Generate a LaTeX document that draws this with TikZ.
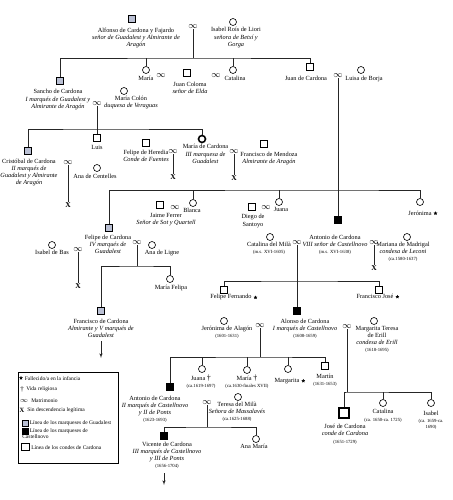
\documentclass[tikz,border=0pt]{standalone}
\usepackage{fontspec}
\setmainfont{Liberation Serif}
\usetikzlibrary{shapes,arrows,positioning,shadows}
\definecolor{guadblue}{RGB}{186,192,212}
\newcommand{\datefont}{\fontsize{4.7}{5.6}\selectfont}

\begin{document}
\begin{tikzpicture}[x=1pt, y=-1pt, >=latex', line width=0.6pt,
    font=\fontsize{6.3}{7.1}\selectfont,
    man/.style={rectangle, draw, fill=white, minimum size=7pt, inner sep=0pt,
      drop shadow={shadow xshift=0.7pt, shadow yshift=-0.7pt, opacity=1, fill=black}},
    guad/.style={man, fill=guadblue},
    cast/.style={man, fill=black},
    card/.style={man, minimum size=10pt, line width=1.4pt},
    woman/.style={circle, draw, fill=white, minimum size=7pt, inner sep=0pt},
    heir/.style={woman, line width=1.6pt},
    mat/.style={inner sep=0pt, font=\fontsize{9}{9}\selectfont},
    txt/.style={align=center, inner sep=0pt},
    nodesc/.style={inner sep=0pt, font=\fontsize{7.5}{7.5}\selectfont\bfseries},
    inf/.style={shape=star, star points=5, star point ratio=2.2, fill, draw, minimum size=3.3pt, inner sep=0pt, line width=0.2pt},
    key/.style={anchor=west, inner sep=0pt, align=left, font=\fontsize{5.5}{6.4}\selectfont},
    ln/.style={draw=black!85},
    ar/.style={->, draw=black!85}]

\useasboundingbox (0,0) rectangle (452,500);

% Alfonso and Isabel
\node[guad] (alfonso) at (132,19) {};
\node[txt, below=4.5pt of alfonso, xshift=4pt] (t_alfonso) {Alfonso de Cardona y Fajardo\\ \textit{señor de Guadalest y Almirante de}\\ \textit{Aragón}};
\node[woman] (isabelr) at (233,22) {};
\node[txt, below=1.5pt of isabelr, xshift=3pt] (t_isabelr) {Isabel Roís de Liori\\ \textit{señora de Betxí y}\\ \textit{Gorga}};
\node[mat] (m_alf) at (193,27) {$\infty$};
\coordinate (f1) at (193,58);

% their children
\node[guad] (sancho) at (60,81) {};
\node[txt, below=4.5pt of sancho, xshift=-2pt] (t_sancho) {Sancho de Cardona\\ \textit{I marqués de Guadalest y}\\ \textit{Almirante de Aragón}};
\node[woman] (maria1) at (146,70) {};
\node[txt, below=2pt of maria1] (t_maria1) {María};
\node[mat] (m_maria) at (161,76) {$\infty$};
\node[man] (jcoloma) at (187,73) {};
\node[txt, below=5pt of jcoloma, xshift=3pt] (t_jcoloma) {Juan Coloma\\ \textit{señor de Elda}};
\node[mat] (m_cat) at (216,76) {$\infty$};
\node[woman] (catalina1) at (233,70) {};
\node[txt, below=2pt of catalina1, xshift=2pt] (t_catalina1) {Catalina};
\node[man] (juancard) at (310,67) {};
\node[txt, below=5pt of juancard, xshift=-4pt] (t_juancard) {Juan de Cardona};
\node[mat] (m_juan) at (338,76) {$\infty$};
\node[woman] (luisa) at (361,70) {};
\node[txt, below=2pt of luisa, xshift=3pt] (t_luisa) {Luisa de Borja};
\node[mat] (m_sancho) at (97,104) {$\infty$};
\node[woman] (mcolon) at (124,91) {};
\node[txt, below=1pt of mcolon, xshift=7pt] (t_mcolon) {María Colón\\ \textit{duquesa de Veraguas}};
\coordinate (f2) at (97,129);

% children of Sancho
\node[guad] (cristobal) at (28,151) {};
\node[txt, below=4pt of cristobal, xshift=1pt] (t_cristobal) {Cristóbal de Cardona\\ \textit{II marqués de}\\ \textit{Guadalest y Almirante}\\ \textit{de Aragón}};
\node[mat] (m_crist) at (68,163) {$\infty$};
\node[nodesc] (x_crist) at (68,205) {X};
\node[woman] (anacent) at (97,168) {};
\node[txt, below=2pt of anacent, xshift=-2pt] (t_anacent) {Ana de Centelles};
\node[man] (luis) at (97,138) {};
\node[txt, below=3pt of luis] (t_luis) {Luis};
\node[man] (heredia) at (146,143) {};
\node[txt, below=3pt of heredia] (t_heredia) {Felipe de Heredia\\ \textit{Conde de Fuentes}};
\node[mat] (m_mariac1) at (173,152) {$\infty$};
\node[nodesc] (x_heredia) at (173,177) {X};
\node[heir] (mariac) at (202,139) {};
\node[txt, below=1pt of mariac, xshift=3.5pt] (t_mariac) {María de Cardona\\ \textit{III marquesa de}\\ \textit{Guadalest}};
\node[mat] (m_mariac2) at (234,152) {$\infty$};
\node[nodesc] (x_mendoza) at (234,178) {X};
\node[man] (mendoza) at (264,144) {};
\node[txt, below=4pt of mendoza, xshift=5pt] (t_mendoza) {Francisco de Mendoza\\ \textit{Almirante de Aragón}};

% children of Juan and Luisa
\coordinate (f3) at (338,190);
\node[guad] (felipe4) at (109,228) {};
\node[txt, below=3pt of felipe4, xshift=-1pt] (t_felipe4) {Felipe de Cardona\\ \textit{IV marqués de}\\ \textit{Guadalest}};
\node[man] (ferrer) at (160,205) {};
\node[txt, below=4pt of ferrer, xshift=6pt] (t_ferrer) {Jaime Ferrer\\ \textit{Señor de Sot y Quartell}};
\node[mat] (m_blanca) at (175,208) {$\infty$};
\node[woman] (blanca) at (193,203) {};
\node[txt, below=1pt of blanca, xshift=-1pt] (t_blanca) {Blanca};
\node[man] (santoyo) at (252,207) {};
\node[txt, below=3.5pt of santoyo, xshift=1pt] (t_santoyo) {Diego de\\ Santoyo};
\node[mat] (m_juana) at (266,208) {$\infty$};
\node[woman] (juana1) at (279,202) {};
\node[txt, below=1pt of juana1, xshift=2pt] (t_juana1) {Juana};
\node[cast] (antonio8) at (338,220) {};
\node[txt, below=11pt of antonio8, xshift=-3pt] (t_antonio8) {Antonio de Cardona\\ \textit{VIII señor de Castellnovo}\\ {\datefont (m.s. XVI-1638)}};
\node[woman] (jeronima) at (420,202) {};
\node[txt, below=5pt of jeronima] (t_jeronima) {Jerónima};
\node[inf, right=2.5pt of t_jeronima] (s_jeronima) {};

% Felipe, IV marques
\node[woman] (isabelbas) at (52,245) {};
\node[txt, below=1pt of isabelbas] (t_isabelbas) {Isabel de Bas};
\node[mat] (m_felipe1) at (78,250) {$\infty$};
\node[nodesc] (x_felipe) at (78,286) {X};
\node[mat] (m_felipe2) at (137,243) {$\infty$};
\node[woman] (analigne) at (152,245) {};
\node[txt, below=1pt of analigne, xshift=10pt] (t_analigne) {Ana de Ligne};
\coordinate (f4) at (137,266);
\node[guad] (francisco5) at (101,311) {};
\node[txt, below=4pt of francisco5] (t_francisco5) {Francisco de Cardona\\ \textit{Almirante y V marqués de}\\ \textit{Guadalest}};
\coordinate (d1) at (101,358);
\node[woman] (mfelipa) at (170,279) {};
\node[txt, below=2pt of mfelipa, xshift=1pt] (t_mfelipa) {María Felipa};

% Antonio, VIII senor
\node[woman] (catmila) at (270,237) {};
\node[txt, below=1pt of catmila, xshift=-1pt] (t_catmila) {Catalina del Milà\\ {\datefont (m.s. XVI-1605)}};
\node[mat] (m_ant1) at (297,243) {$\infty$};
\node[mat] (m_ant2) at (374,243) {$\infty$};
\node[nodesc] (x_ant) at (374,268) {X};
\node[woman] (mariana) at (407,237) {};
\node[txt, below=1pt of mariana, xshift=-4pt] (t_mariana) {Mariana de Madrigal\\ \textit{condesa de Leconi}\\ {\datefont (ca.1580-1637)}};
\coordinate (f5) at (297,281);
\node[man] (felipef) at (224,290) {};
\node[txt, below=0.5pt of felipef, xshift=7pt] (t_felipef) {Felipe Fernando};
\node[inf, right=2.5pt of t_felipef] (s_felipef) {};
\node[cast] (alonso) at (297,311) {};
\node[txt, below=4pt of alonso, xshift=8pt] (t_alonso) {Alonso de Cardona\\ \textit{I marqués de Castellnovo}\\ {\datefont (1608-1659)}};
\node[man] (franciscoj) at (379,290) {};
\node[txt, below=0.5pt of franciscoj, xshift=-4pt] (t_franciscoj) {Francisco José};
\node[inf, right=2.5pt of t_franciscoj] (s_franciscoj) {};

% Alonso, I marques
\node[woman] (jalagon) at (224,321) {};
\node[txt, below=1pt of jalagon, xshift=3pt] (t_jalagon) {Jerónima de Alagón\\ {\datefont (1601-1631)}};
\node[mat] (m_alonso1) at (260,326) {$\infty$};
\node[mat] (m_alonso2) at (347,327) {$\infty$};
\node[woman] (mteresa) at (374,321) {};
\node[txt, below=1pt of mteresa, xshift=3pt] (t_mteresa) {Margarita Teresa\\ de Erill\\ \textit{condesa de Erill}\\ {\datefont (1618-1695)}};
\coordinate (f6) at (260,357);
\node[cast] (antonio2) at (170,387) {};
\node[txt, below=5pt of antonio2, xshift=-15pt] (t_antonio2) {Antonio de Cardona\\ \textit{II marqués de Castellnovo}\\ \textit{y II de Ponts}\\ {\datefont (1623-1693)}};
\node[woman] (juana2) at (202,369) {};
\node[txt, below=2pt of juana2, xshift=-1pt] (t_juana2) {Juana {\fontsize{8}{7}\selectfont †}\\ {\datefont (ca.1619-1697)}};
\node[woman] (maria2) at (247,370) {};
\node[txt, below=0.5pt of maria2] (t_maria2) {María {\fontsize{8}{7}\selectfont †}\\ {\datefont (ca.1630-finales XVII)}};
\node[woman] (margarita) at (288,369) {};
\node[txt, below=5pt of margarita, xshift=-1pt] (t_margarita) {Margarita};
\node[inf, right=2.5pt of t_margarita] (s_margarita) {};
\node[man] (martin) at (325,366) {};
\node[txt, below=4pt of martin] (t_martin) {Martín\\ {\datefont (1631-1653)}};
\coordinate (f8) at (347,392);
\node[card] (jose) at (344,413) {};
\node[txt, below=5.5pt of jose, xshift=1pt] (t_jose) {José de Cardona\\ \textit{conde de Cardona}\\ {\datefont (1651-1729)}};
\node[woman] (catalina2) at (383,403) {};
\node[txt, below=2.5pt of catalina2] (t_catalina2) {Catalina\\ {\datefont (ca. 1650-ca. 1725)}};
\node[woman] (isabel2) at (431,403) {};
\node[txt, below=4pt of isabel2] (t_isabel2) {Isabel\\ {\datefont (ca. 1659-ca.}\\[-1.5pt] {\datefont 1690)}};

% Antonio, II marques
\node[mat] (m_ant2a) at (207,403) {$\infty$};
\node[woman] (teresa) at (238,397) {};
\node[txt, below=1pt of teresa, xshift=-1pt] (t_teresa) {Teresa del Milà\\ \textit{Señora de Massalavés}\\ {\datefont (ca.1625-1688)}};
\coordinate (f7) at (207,427);
\node[cast] (vicente) at (164,436) {};
\node[txt, below=2pt of vicente, xshift=3pt] (t_vicente) {Vicente de Cardona\\ \textit{III marqués de Castellnovo}\\ \textit{y III de Ponts}\\ {\datefont (1656-1704)}};
\coordinate (d2) at (164,485);
\node[woman] (anamaria) at (256,439) {};
\node[txt, below=1pt of anamaria, xshift=-2pt] (t_anamaria) {Ana María};

% lines
\draw[ln] (m_alf.south) -- (f1);
\draw[ln] (sancho.north) |- (f1) -| (juancard.north);
\draw[ln] (maria1.north) -- (maria1.north |- f1);
\draw[ln] (catalina1.north) -- (catalina1.north |- f1);
\draw[ln] (m_sancho.south) -- (f2);
\draw[ln] (cristobal.north) |- (f2) -| (mariac.north);
\draw[ln] (luis.north) -- (f2);
\draw[ln] (m_crist.south) -- (x_crist.north);
\draw[ln] (m_mariac1.south) -- (x_heredia.north);
\draw[ln] (m_mariac2.south) -- (x_mendoza.north);
\draw[ln] (m_juan.south) -- (antonio8.north);
\draw[ln] (felipe4.north) |- (f3) -| (jeronima.north);
\draw[ln] (blanca.north) -- (blanca.north |- f3);
\draw[ln] (juana1.north) -- (juana1.north |- f3);
\draw[ln] (m_felipe1.south) -- (x_felipe.north);
\draw[ln] (m_felipe2.south) -- (f4);
\draw[ln] (francisco5.north) |- (f4) -| (mfelipa.north);
\draw[ar] ([yshift=-3pt]francisco5 |- t_francisco5.south) -- (d1);
\draw[ln] (m_ant2.south) -- (x_ant.north);
\draw[ln] (m_ant1.south) -- (f5);
\draw[ln] (felipef.north) |- (f5) -| (franciscoj.north);
\draw[ln] (alonso.north) -- (f5);
\draw[ln] (m_alonso1.south) -- (f6);
\draw[ln] (antonio2.north) |- (f6) -| (martin.north);
\draw[ln] (juana2.north) -- (juana2.north |- f6);
\draw[ln] (maria2.north) -- (maria2.north |- f6);
\draw[ln] (margarita.north) -- (margarita.north |- f6);
\draw[ln] (m_alonso2.south) -- (f8);
\draw[ln] (jose.north) |- (f8) -| (isabel2.north);
\draw[ln] (catalina2.north) -- (catalina2.north |- f8);
\draw[ln] (m_ant2a.south) -- (f7);
\draw[ln] (vicente.north) |- (f7) -| (anamaria.north);
\draw[ar] ([yshift=-4pt]vicente |- t_vicente.south) -- (d2);

% legend
\node[draw, minimum width=100pt, minimum height=91pt, inner sep=0pt] (legend) at (68,417.5) {};
\node[inf] (k1) at (21,378) {};
\node[key] (kt1) at (24.5,379) {Fallecido/a en la infancia};
\node[inner sep=0pt, font=\fontsize{7}{7}\selectfont] (k2) at (22,389) {†};
\node[key] (kt2) at (26,389) {Vida religiosa};
\node[mat, font=\fontsize{7.5}{7.5}\selectfont] (k3) at (24,401) {$\infty$};
\node[key] (kt3) at (31,401) {Matrimonio};
\node[nodesc, font=\fontsize{6.5}{6.5}\selectfont\bfseries] (k4) at (22,410) {X};
\node[key] (kt4) at (27,410) {Sin descendencia legítima};
\node[guad, minimum size=6pt] (k5) at (25,423) {};
\node[key] (kt5) at (29.5,423) {Línea de los marqueses de Guadalest};
\node[cast, minimum size=6pt] (k6) at (25,431) {};
\node[key, anchor=north west] (kt6) at (22,428.3) {\hspace*{7.5pt}Línea de los marqueses de\\ Castellnovo};
\node[card, minimum size=7.5pt, line width=1.2pt] (k7) at (25.5,447) {};
\node[key] (kt7) at (31,448) {Línea de los condes de Cardona};

\end{tikzpicture}
\end{document}
